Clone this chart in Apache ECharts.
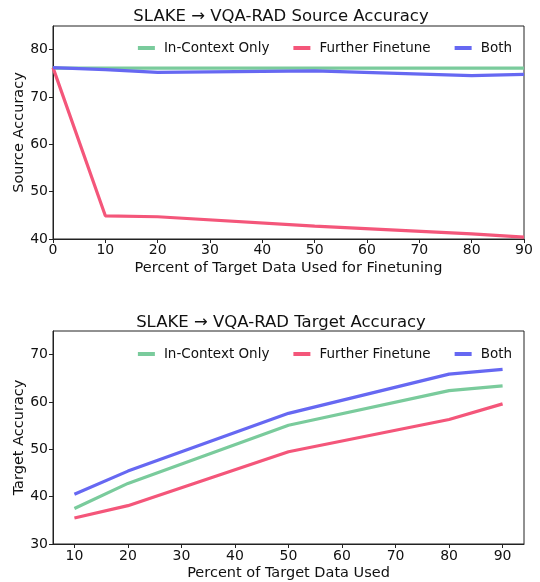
<!DOCTYPE html>
<html>
<head>
<meta charset="utf-8">
<script src="https://cdn.jsdelivr.net/npm/echarts@6/dist/echarts.min.js"></script>
<style>
html,body{margin:0;padding:0;background:#fff;}
#chart{width:540px;height:582px;}
</style>
</head>
<body>
<div id="chart"></div>
<script>
// ---- Data ----
const seriesNames = ['In-Context Only', 'Further Finetune', 'Both'];

const sourceX = [0, 10, 20, 50, 80, 90];
const sourceInContext = [76.1, 76.1, 76.1, 76.1, 76.1, 76.1];
const sourceFinetune = [76.2, 44.9, 44.7, 42.7, 41.1, 40.4];
const sourceBoth = [76.2, 75.8, 75.2, 75.5, 74.5, 74.8];

const targetX = [10, 20, 50, 80, 90];
const targetInContext = [37.5, 42.8, 55.1, 62.4, 63.4];
const targetFinetune = [35.5, 38.1, 49.5, 56.3, 59.6];
const targetBoth = [40.5, 45.4, 57.6, 65.9, 66.9];

const sourceYTicks = [40, 50, 60, 70, 80];
const targetXTicks = [10, 20, 30, 40, 50, 60, 70, 80, 90];
const targetYTicks = [30, 40, 50, 60, 70];

const colors = ['#7acb9c', '#f4567a', '#6668f2'];
const FONT = 'DejaVu Sans';

function pairs(xs, ys) { return xs.map((x, i) => [x, ys[i]]); }

const chart = echarts.init(document.getElementById('chart'), null, {renderer: 'canvas'});

const axisCommon = {
  axisLine: {show: true, lineStyle: {color: '#222', width: 1}},
  axisTick: {show: true, length: 4, lineStyle: {color: '#222'}},
  splitLine: {show: false},
  axisLabel: {color: '#111', fontFamily: FONT, fontSize: 14, margin: 4}
};
const nameStyle = {fontFamily: FONT, fontSize: 14.5, color: '#111'};

function lineSeries(name, data, xi, yi, ci) {
  return {
    name: name, type: 'line', xAxisIndex: xi, yAxisIndex: yi,
    data: data, showSymbol: false, symbol: 'none',
    lineStyle: {width: 3.2, color: colors[ci]}, itemStyle: {color: colors[ci]},
    animation: false
  };
}

const legendCommon = {
  data: seriesNames,
  right: 23,
  itemWidth: 17, itemHeight: 4, itemGap: 24,
  icon: 'rect',
  textStyle: {fontFamily: FONT, fontSize: 13.5, color: '#111', padding: [0, 0, 0, 4]},
  selectedMode: false
};

const option = {
  backgroundColor: '#fff',
  animation: false,
  title: [
    {text: 'SLAKE \u2192 VQA-RAD Source Accuracy', left: 276, textAlign: 'center', top: 3,
     textStyle: {fontFamily: FONT, fontSize: 16.5, fontWeight: 'normal', color: '#111'}},
    {text: 'SLAKE \u2192 VQA-RAD Target Accuracy', left: 276, textAlign: 'center', top: 309,
     textStyle: {fontFamily: FONT, fontSize: 16.5, fontWeight: 'normal', color: '#111'}}
  ],
  legend: [
    Object.assign({top: 36}, legendCommon),
    Object.assign({top: 342}, legendCommon)
  ],
  grid: [
    {left: 53, right: 16, top: 26, height: 213, show: true, borderColor: '#222', borderWidth: 1, backgroundColor: 'transparent'},
    {left: 53, right: 16, top: 331, height: 213, show: true, borderColor: '#222', borderWidth: 1, backgroundColor: 'transparent'}
  ],
  xAxis: [
    Object.assign({}, axisCommon, {
      type: 'value', gridIndex: 0, min: 0, max: 90, interval: 10,
      name: 'Percent of Target Data Used for Finetuning', nameLocation: 'middle', nameGap: 22,
      nameMoveOverlap: false,
      nameTextStyle: nameStyle
    }),
    Object.assign({}, axisCommon, {
      type: 'value', gridIndex: 1, min: 6, max: 94,
      axisTick: {show: true, length: 4, lineStyle: {color: '#222'}, customValues: targetXTicks},
      axisLabel: {color: '#111', fontFamily: FONT, fontSize: 14, margin: 5, customValues: targetXTicks},
      name: 'Percent of Target Data Used', nameLocation: 'middle', nameGap: 22,
      nameMoveOverlap: false,
      nameTextStyle: nameStyle
    })
  ],
  yAxis: [
    Object.assign({}, axisCommon, {
      type: 'value', gridIndex: 0, min: 40, max: 85,
      axisTick: {show: true, length: 4, lineStyle: {color: '#222'}, customValues: sourceYTicks},
      axisLabel: {color: '#111', fontFamily: FONT, fontSize: 14, margin: 5, customValues: sourceYTicks},
      name: 'Source Accuracy', nameLocation: 'middle', nameGap: 26,
      nameMoveOverlap: false,
      nameTextStyle: nameStyle
    }),
    Object.assign({}, axisCommon, {
      type: 'value', gridIndex: 1, min: 30, max: 75,
      axisTick: {show: true, length: 4, lineStyle: {color: '#222'}, customValues: targetYTicks},
      axisLabel: {color: '#111', fontFamily: FONT, fontSize: 14, margin: 5, customValues: targetYTicks},
      name: 'Target Accuracy', nameLocation: 'middle', nameGap: 26,
      nameMoveOverlap: false,
      nameTextStyle: nameStyle
    })
  ],
  series: [
    lineSeries(seriesNames[0], pairs(sourceX, sourceInContext), 0, 0, 0),
    lineSeries(seriesNames[1], pairs(sourceX, sourceFinetune), 0, 0, 1),
    lineSeries(seriesNames[2], pairs(sourceX, sourceBoth), 0, 0, 2),
    lineSeries(seriesNames[0], pairs(targetX, targetInContext), 1, 1, 0),
    lineSeries(seriesNames[1], pairs(targetX, targetFinetune), 1, 1, 1),
    lineSeries(seriesNames[2], pairs(targetX, targetBoth), 1, 1, 2)
  ]
};

chart.setOption(option);
</script>
</body>
</html>
